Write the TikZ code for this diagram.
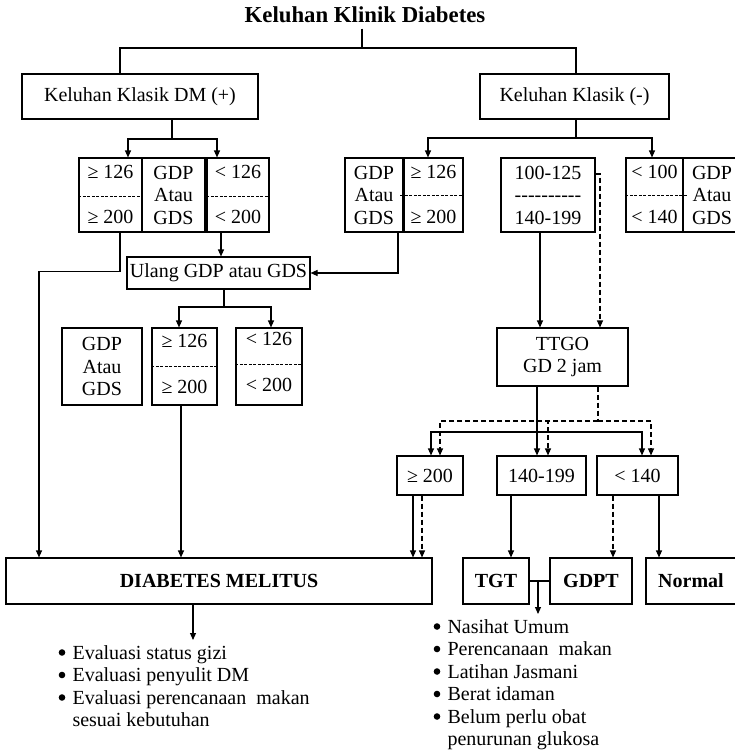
\documentclass[tikz,border=0pt]{standalone}
\usepackage{fontspec}
\setmainfont{Liberation Serif}
\usetikzlibrary{arrows.meta}
\newcommand\fs{\fontsize{20}{22.5}\selectfont}
\begin{document}
\begin{tikzpicture}[x=1pt,y=-1pt, line width=1.1pt, font=\fs,
  arr/.style={-{Triangle[length=7pt,width=6pt]}},
  darr/.style={-{Triangle[length=7pt,width=6pt]}, dash pattern=on 5pt off 3pt},
  dsh/.style={dash pattern=on 5pt off 3pt},
  cdash/.style={line width=0.9pt, dash pattern=on 3pt off 1.5pt},
  box/.style={draw, inner sep=0pt, align=center},
  lbl/.style={inner sep=0pt, align=center},
  dot/.style={fill=black, draw=none}]
\useasboundingbox (0,0) rectangle (735,755);

% top
\node[lbl, font=\fontsize{22.8}{26}\selectfont\bfseries] (title) at (365,15) {Keluhan Klinik Diabetes};
\node[box, line width=2.2pt, minimum width=236pt, minimum height=45pt] (kdm) at (140,96.5) {Keluhan Klasik DM (+)};
\node[box, minimum width=189pt, minimum height=45pt] (kneg) at (574.5,96.5) {Keluhan Klasik (-)};

% left triple
\node[box, minimum width=63pt, minimum height=74pt] (L1) at (110.5,195) {};
\node[lbl] (L1a) at (110.5,172) {≥ 126};
\node[lbl] (L1b) at (110.5,217) {≥ 200};
\node[box, minimum width=63pt, minimum height=74pt] (L2) at (173.5,195) {GDP\\Atau\\GDS};
\node[box, minimum width=62pt, minimum height=74pt] (L3) at (238,195) {};
\node[lbl] (L3a) at (238,172) {< 126};
\node[lbl] (L3b) at (238,217) {< 200};
\draw[cdash] ([yshift=-1pt]L1.west) -- ([yshift=-1pt]L1.east);
\draw[cdash] ([yshift=-1pt]L3.west) -- ([yshift=-1pt]L3.east);

% middle triple
\node[box, minimum width=58pt, minimum height=74pt] (M1) at (374,195) {GDP\\Atau\\GDS};
\node[box, minimum width=59pt, minimum height=74pt] (M2) at (433.5,195) {};
\node[lbl] (M2a) at (433.5,172) {≥ 126};
\node[lbl] (M2b) at (433.5,217) {≥ 200};
\draw[cdash] ([xshift=-3pt]M2.west) -- (M2.east);

% center box
\node[box, minimum width=94pt, minimum height=74pt] (C) at (548,195) {100-125\\{-}{-}{-}{-}{-}{-}{-}{-}{-}{-}\\140-199};

% right triple
\node[box, minimum width=57pt, minimum height=74pt] (R1) at (654.5,195) {};
\node[lbl] (R1a) at (654.5,172) {< 100};
\node[lbl] (R1b) at (654.5,217) {< 140};
\draw[cdash] (R1.west) -- ([xshift=3pt]R1.east);
\node[box, minimum width=58pt, minimum height=74pt] (R2) at (712,195) {GDP\\Atau\\GDS};

% ulang
\node[box, minimum width=183pt, minimum height=32pt] (ulang) at (218.5,273) {Ulang GDP atau GDS};

% lower left triple
\node[box, minimum width=80pt, minimum height=77pt] (g3) at (102,366.5) {GDP\\Atau\\GDS};
\node[box, minimum width=65pt, minimum height=77pt] (g4) at (184.5,366.5) {};
\node[lbl] (g4a) at (184.5,341) {≥ 126};
\node[lbl] (g4b) at (184.5,387) {≥ 200};
\node[box, minimum width=66pt, minimum height=77pt] (g5) at (269,366.5) {};
\node[lbl] (g5a) at (269,339) {< 126};
\node[lbl] (g5b) at (269,385) {< 200};
\draw[cdash] (g4.west) -- (g4.east);
\draw[cdash] ([yshift=2.5pt]g5.west) -- ([yshift=2.5pt]g5.east);

% TTGO
\node[box, minimum width=131pt, minimum height=58pt] (TTGO) at (562.5,357) {TTGO\\GD 2 jam};
\node[box, minimum width=66pt, minimum height=39pt] (b200) at (430,475.5) {≥ 200};
\node[box, minimum width=89pt, minimum height=39pt] (b140199) at (541.5,475.5) {140-199};
\node[box, minimum width=81pt, minimum height=39pt] (b140) at (637.5,475.5) {< 140};

% bottom boxes
\node[box, minimum width=426pt, minimum height=46pt, font=\fs\bfseries] (DM) at (219,581) {DIABETES MELITUS};
\node[box, minimum width=66pt, minimum height=46pt, font=\fs\bfseries] (TGT) at (496,581) {TGT};
\node[box, minimum width=82pt, minimum height=46pt, font=\fs\bfseries] (GDPT) at (591,581) {GDPT};
\node[box, minimum width=90pt, minimum height=46pt, font=\fs\bfseries] (Normal) at (691,581) {Normal};

% lists
\node[lbl, anchor=north west, align=left] (lst1) at (56,643) {%
\begin{tabular}{@{\hspace{16pt}}l@{}}
Evaluasi status gizi\\
Evaluasi penyulit DM\\
Evaluasi perencanaan~ makan\\
sesuai kebutuhan
\end{tabular}};
\foreach \k in {0,1,2} \fill[dot] (62,{652.5+22.5*\k}) circle (3.3pt);
\node[lbl, anchor=north west, align=left] (lst2) at (431,617) {%
\begin{tabular}{@{\hspace{16pt}}l@{}}
Nasihat Umum\\
Perencanaan~ makan\\
Latihan Jasmani\\
Berat idaman\\
Belum perlu obat\\
penurunan glukosa
\end{tabular}};
\foreach \k in {0,1,2,3,4} \fill[dot] (437,{626.5+22.5*\k}) circle (3.3pt);

% connectors: top
\coordinate (j0) at (362,48);
\coordinate (tl) at (120,48);
\coordinate (tr) at (576,48);
\draw ([yshift=-5pt]title.south -| j0) -- (j0);
\draw (tl |- kdm.north) -- (tl) -- (tr) -- (tr |- kneg.north);

% from kdm
\coordinate (a1) at (172,139);
\draw (kdm.south -| a1) -- (a1);
\draw[arr] (a1) -| ([xshift=17.5pt]L1.north);
\draw[arr] (a1) -| ([xshift=-21pt]L3.north);
\draw[arr] ([xshift=9.5pt]L1.south) -- ++(0,39) -| ([xshift=-180pt]DM.north);
\draw[arr] ([xshift=-17pt]L3.south) -- ([xshift=2.5pt]ulang.north);
\draw[arr] ([xshift=24pt]M1.south) |- (ulang.east);

% from kneg
\coordinate (a2) at (576,138);
\draw (kneg.south -| a2) -- (a2);
\draw[arr] (a2) -| ([xshift=-5.5pt]M2.north);
\draw[arr] (a2) -| ([xshift=-2.5pt]R1.north);

% ulang to lower triple
\coordinate (a3) at (224,307);
\draw (ulang.south -| a3) -- (a3);
\draw[arr] (a3) -| ([xshift=-5.5pt]g4.north);
\draw[arr] (a3) -| ([xshift=2pt]g5.north);
\draw[arr] ([xshift=-3.5pt]g4.south) -- ([xshift=-38pt]DM.north);

% to TTGO
\draw[arr] ([xshift=-8pt]C.south) -- ([xshift=-22.5pt]TTGO.north);
\draw[darr] ([yshift=21pt]C.east) -| ([xshift=37.5pt]TTGO.north);

% from TTGO
\coordinate (h1) at (537,432);
\draw[arr] ([xshift=-25.5pt]TTGO.south) -- ([xshift=-4.5pt]b140199.north);
\draw[arr] (h1) -| ([xshift=1pt]b200.north);
\draw[arr] (h1) -| ([xshift=4.5pt]b140.north);
\coordinate (h2) at (598,421);
\draw[dsh] ([xshift=35.5pt]TTGO.south) -- (h2);
\draw[darr] (h2) -| ([xshift=10pt]b200.north);
\draw[darr] (h2) -| ([xshift=13.5pt]b140.north);
\draw[darr] (h2) -| ([xshift=6.5pt]b140199.north);

% to bottom boxes
\draw[arr] ([xshift=-17pt]b200.south) -- ([xshift=194pt]DM.north);
\draw[darr] ([xshift=-8pt]b200.south) -- ([xshift=203pt]DM.north);
\draw[arr] ([xshift=-30.5pt]b140199.south) -- ([xshift=15pt]TGT.north);
\draw[darr] ([xshift=-24.5pt]b140.south) -- ([xshift=22pt]GDPT.north);
\draw[arr] ([xshift=21.5pt]b140.south) -- ([xshift=-32pt]Normal.north);

% TGT-GDPT and lists
\draw (TGT.east) -- (GDPT.west);
\coordinate (tj) at (538,581);
\coordinate (te) at (538,614);
\draw[arr] (tj) -- (te);
\coordinate (de) at (193,640);
\draw[arr] ([xshift=-26pt]DM.south) -- (de);
\end{tikzpicture}
\end{document}
